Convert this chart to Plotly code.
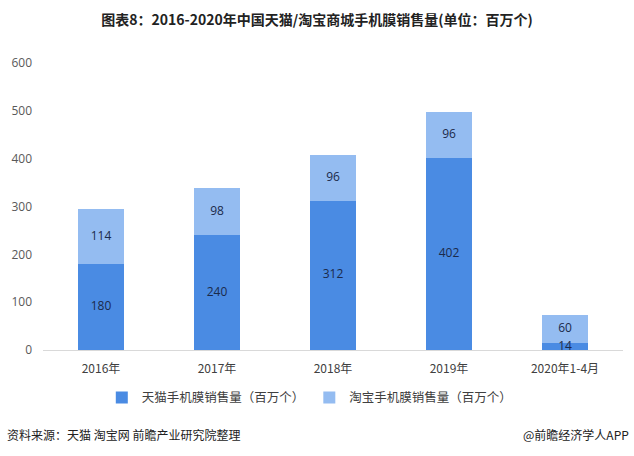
import plotly.graph_objects as go

categories = ["2016年", "2017年", "2018年", "2019年", "2020年1-4月"]
tmall = [180, 240, 312, 402, 14]
taobao = [114, 98, 96, 96, 60]
series_names = ["天猫手机膜销售量（百万个）", "淘宝手机膜销售量（百万个）"]
title_text = "图表8：2016-2020年中国天猫/淘宝商城手机膜销售量(单位：百万个)"
source_text = "资料来源：天猫 淘宝网 前瞻产业研究院整理"
credit_text = "@前瞻经济学人APP"

FONT = "Noto Sans CJK SC, Noto Sans, sans-serif"
NUMFONT = "Open Sans, sans-serif"
LABEL_COLOR = "#1b2a4a"

fig = go.Figure()
fig.add_trace(go.Bar(
    x=categories, y=tmall, name=series_names[0],
    marker=dict(color="#4a8be3", line=dict(width=0)),
))
fig.add_trace(go.Bar(
    x=categories, y=taobao, name=series_names[1],
    marker=dict(color="#94bcf1", line=dict(width=0)),
))
# data labels at the middle of each segment
fig.add_trace(go.Scatter(
    x=categories, y=[v / 2 for v in tmall], mode="text",
    text=[str(v) for v in tmall], textposition="middle center",
    textfont=dict(color=LABEL_COLOR, size=12, family=NUMFONT),
    showlegend=False, hoverinfo="skip", cliponaxis=False,
))
fig.add_trace(go.Scatter(
    x=categories, y=[a + b / 2 for a, b in zip(tmall, taobao)], mode="text",
    text=[str(v) for v in taobao], textposition="middle center",
    textfont=dict(color=LABEL_COLOR, size=12, family=NUMFONT),
    showlegend=False, hoverinfo="skip", cliponaxis=False,
))

fig.update_layout(
    barmode="stack",
    bargap=0.6,
    width=634, height=456,
    margin=dict(l=43, r=11, t=63, b=106),
    paper_bgcolor="white", plot_bgcolor="white",
    font=dict(family=FONT, size=12, color="#404040"),
    title=dict(text="<b>" + title_text + "</b>", x=0.5, xanchor="center",
               y=1 - 20 / 456, yanchor="middle",
               font=dict(size=14, color="#222222", family=FONT)),
    showlegend=True,
    legend=dict(orientation="h", x=0.46, xanchor="center", y=-0.167, yanchor="middle",
                font=dict(size=12.5, color="#404040", family=FONT),
                traceorder="normal", itemwidth=30),
    xaxis=dict(showline=True, linecolor="#d9d9d9", linewidth=1, ticks="",
               ticklabelstandoff=8,
               tickfont=dict(size=12, color="#404040", family=FONT), showgrid=False),
    yaxis=dict(range=[0, 600], dtick=100, showgrid=False, zeroline=False,
               showline=False, ticks="", ticklabelstandoff=10,
               tickfont=dict(size=12, color="#595959", family=NUMFONT)),
    annotations=[
        dict(text=source_text, xref="paper", yref="paper", x=-38 / 580, y=-0.296,
             xanchor="left", yanchor="middle", showarrow=False,
             font=dict(size=12, color="#222222", family=FONT)),
        dict(text=credit_text, xref="paper", yref="paper", x=1 + 8 / 580, y=-0.296,
             xanchor="right", yanchor="middle", showarrow=False,
             font=dict(size=12, color="#222222", family=FONT)),
    ],
)

fig.write_html("out.html", config={"displayModeBar": False},
               post_script="document.body.style.margin='0';")
